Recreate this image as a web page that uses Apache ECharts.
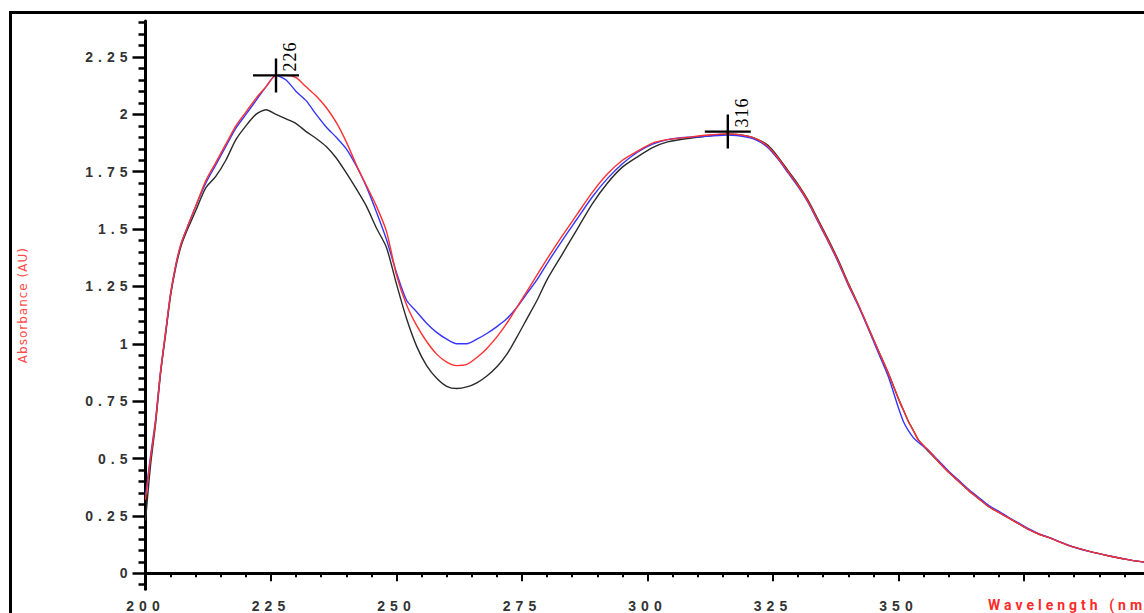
<!DOCTYPE html>
<html><head><meta charset="utf-8">
<script src="https://cdn.jsdelivr.net/npm/echarts@6/dist/echarts.min.js"></script>
<style>
html,body{margin:0;padding:0;background:#fff;overflow:hidden}
#chart{width:1144px;height:613px}
#chart text[style*="Liberation Sans"]{letter-spacing:5px}
#chart text[style*="Roboto"]{letter-spacing:4px}
#chart text[style*="DejaVu Sans"]{letter-spacing:1px}
#chart text[style*="Liberation Serif"]{letter-spacing:1px}
</style></head><body><div id="chart"></div>
<script>
const wavelengths = [200,201,202,203,204,205,206,207,208,210,212,214,216,218,220,222,224,226,228,230,232,234,236,238,240,242,244,246,248,250,252,254,256,258,260,262,264,266,268,270,272,274,276,278,280,283,286,289,292,295,298,301,304,308,312,316,320,322,324,326,328,330,332,334,336,338,340,342,344,346,348,350,351,352,353,354,356,358,360,362,364,366,368,370,372,374,376,378,380,384,388,392,396,400];
const redValues = [0.32,0.50,0.66,0.88,1.05,1.22,1.34,1.43,1.49,1.60,1.71,1.79,1.87,1.95,2.01,2.07,2.12,2.17,2.17,2.16,2.12,2.08,2.03,1.965,1.88,1.78,1.69,1.60,1.49,1.30,1.17,1.08,1.01,0.955,0.92,0.905,0.91,0.94,0.98,1.03,1.09,1.16,1.23,1.30,1.37,1.47,1.565,1.66,1.74,1.80,1.84,1.875,1.89,1.90,1.91,1.915,1.905,1.89,1.86,1.81,1.75,1.69,1.62,1.535,1.45,1.36,1.26,1.17,1.07,0.97,0.87,0.76,0.71,0.66,0.62,0.58,0.535,0.485,0.44,0.40,0.36,0.325,0.29,0.265,0.24,0.215,0.19,0.17,0.155,0.12,0.095,0.075,0.058,0.045];
const blueValues = [0.34,0.51,0.67,0.88,1.05,1.22,1.34,1.43,1.49,1.60,1.70,1.78,1.86,1.94,2.00,2.06,2.12,2.17,2.15,2.10,2.06,2.00,1.945,1.90,1.85,1.775,1.685,1.575,1.455,1.31,1.19,1.14,1.09,1.05,1.02,1.00,1.00,1.02,1.045,1.075,1.11,1.16,1.22,1.28,1.35,1.45,1.545,1.64,1.72,1.785,1.835,1.87,1.89,1.90,1.905,1.91,1.90,1.885,1.855,1.805,1.745,1.685,1.615,1.53,1.445,1.355,1.255,1.165,1.065,0.96,0.855,0.72,0.66,0.62,0.59,0.57,0.535,0.49,0.445,0.405,0.365,0.33,0.295,0.27,0.243,0.218,0.193,0.172,0.156,0.121,0.095,0.075,0.058,0.045];
const blackValues = [0.23,0.47,0.65,0.87,1.04,1.21,1.33,1.42,1.48,1.58,1.68,1.73,1.80,1.89,1.95,2.00,2.02,2.00,1.98,1.96,1.925,1.895,1.86,1.81,1.745,1.675,1.60,1.505,1.42,1.26,1.11,0.99,0.905,0.85,0.815,0.805,0.812,0.83,0.86,0.90,0.955,1.03,1.11,1.19,1.28,1.39,1.50,1.61,1.70,1.77,1.815,1.855,1.88,1.895,1.905,1.915,1.905,1.89,1.865,1.815,1.755,1.695,1.625,1.54,1.455,1.365,1.265,1.17,1.07,0.97,0.87,0.76,0.71,0.66,0.62,0.58,0.53,0.485,0.44,0.40,0.36,0.325,0.29,0.265,0.24,0.215,0.19,0.17,0.155,0.12,0.095,0.075,0.058,0.045];
const peakWavelengths = [226, 316];
const peakValues = [2.17, 1.925];
const xTicks = [200,225,250,275,300,325,350];
const yTicks = [0,0.25,0.5,0.75,1,1.25,1.5,1.75,2,2.25];
const yMinorTicks = [];
for (let k = -1; k <= 48; k++) { if (k % 5 !== 0) yMinorTicks.push(+(k * 0.05).toFixed(2)); }

const Y_MIN = -0.07, Y_MAX = 2.407;
const chart = echarts.init(document.getElementById('chart'), null, {renderer: 'svg'});
const pair = vals => wavelengths.map((w, i) => [w, vals[i]]);
const lineSeries = (name, vals, color) => ({
  name, type: 'line', data: pair(vals), showSymbol: false, smooth: 0.25,
  lineStyle: {color, width: 1.4}, itemStyle: {color}, silent: true
});
const crossPath = 'path://M0,15.8 L46,15.8 L46,18.2 L0,18.2 Z M21.8,0 L24.2,0 L24.2,34 L21.8,34 Z';

chart.setOption({
  animation: false,
  backgroundColor: '#fff',
  grid: {left: 145.5, right: -5.5, top: 21, bottom: 23.7, outerBoundsMode: 'none', containLabel: false},
  xAxis: {
    type: 'value', min: 200, max: 400, interval: 25,
    axisLine: {show: true, lineStyle: {color: '#000', width: 3}},
    axisTick: {show: true, length: 8, lineStyle: {color: '#000', width: 2}},
    minorTick: {show: true, splitNumber: 5, length: 4, lineStyle: {color: '#000', width: 2}},
    axisLabel: {customValues: xTicks, margin: 10, color: '#333', fontFamily: 'Liberation Sans', fontWeight: 'bold', fontSize: 14},
    splitLine: {show: false}, minorSplitLine: {show: false}
  },
  yAxis: [{
    type: 'value', min: Y_MIN, max: Y_MAX, position: 'left',
    axisLine: {show: true, lineStyle: {color: '#000', width: 3}},
    axisTick: {show: true, customValues: yTicks, length: 13, lineStyle: {color: '#000', width: 2.5}},
    axisLabel: {customValues: yTicks, margin: 13, color: '#333', fontFamily: 'Liberation Sans', fontWeight: 'bold', fontSize: 14,
      formatter: v => String(v)},
    splitLine: {show: false},
    name: 'Absorbance (AU)', nameLocation: 'middle', nameGap: 117, nameRotate: 90,
    nameTextStyle: {fontFamily: 'DejaVu Sans', fontSize: 12, color: '#ff4a4a'}
  }, {
    type: 'value', min: Y_MIN, max: Y_MAX, position: 'left',
    axisLine: {show: false},
    axisTick: {show: true, customValues: yMinorTicks, length: 7, lineStyle: {color: '#000', width: 2.5}},
    axisLabel: {show: false},
    splitLine: {show: false}
  }],
  graphic: [
    {type: 'rect', silent: true, z: 100, shape: {x: 10.5, y: 12.5, width: 1400, height: 800},
     style: {fill: 'none', stroke: '#000', lineWidth: 3}},
    {type: 'text', silent: true, x: 988, y: 598,
     style: {text: 'Wavelength (nm)', fontFamily: 'Roboto', fontWeight: 'bold', fontSize: 14, fill: '#ff2a2a', verticalAlign: 'top', align: 'left'}}
  ],
  series: [
    lineSeries('black', blackValues, '#2a2a2a'),
    lineSeries('blue', blueValues, '#3535ff'),
    lineSeries('red', redValues, '#ff3030'),
    {
      name: 'peaks', type: 'scatter', z: 10, silent: true,
      data: peakWavelengths.map((w, i) => [w, peakValues[i]]),
      symbol: crossPath, symbolSize: [46, 34], symbolKeepAspect: false,
      itemStyle: {color: '#000', opacity: 1},
      label: {show: true, position: 'inside', offset: [19, 14], rotate: 90,
        formatter: p => String(p.value[0]), color: '#000',
        fontFamily: 'Liberation Serif', fontSize: 18, align: 'center', verticalAlign: 'middle'}
    }
  ]
});
</script></body></html>
